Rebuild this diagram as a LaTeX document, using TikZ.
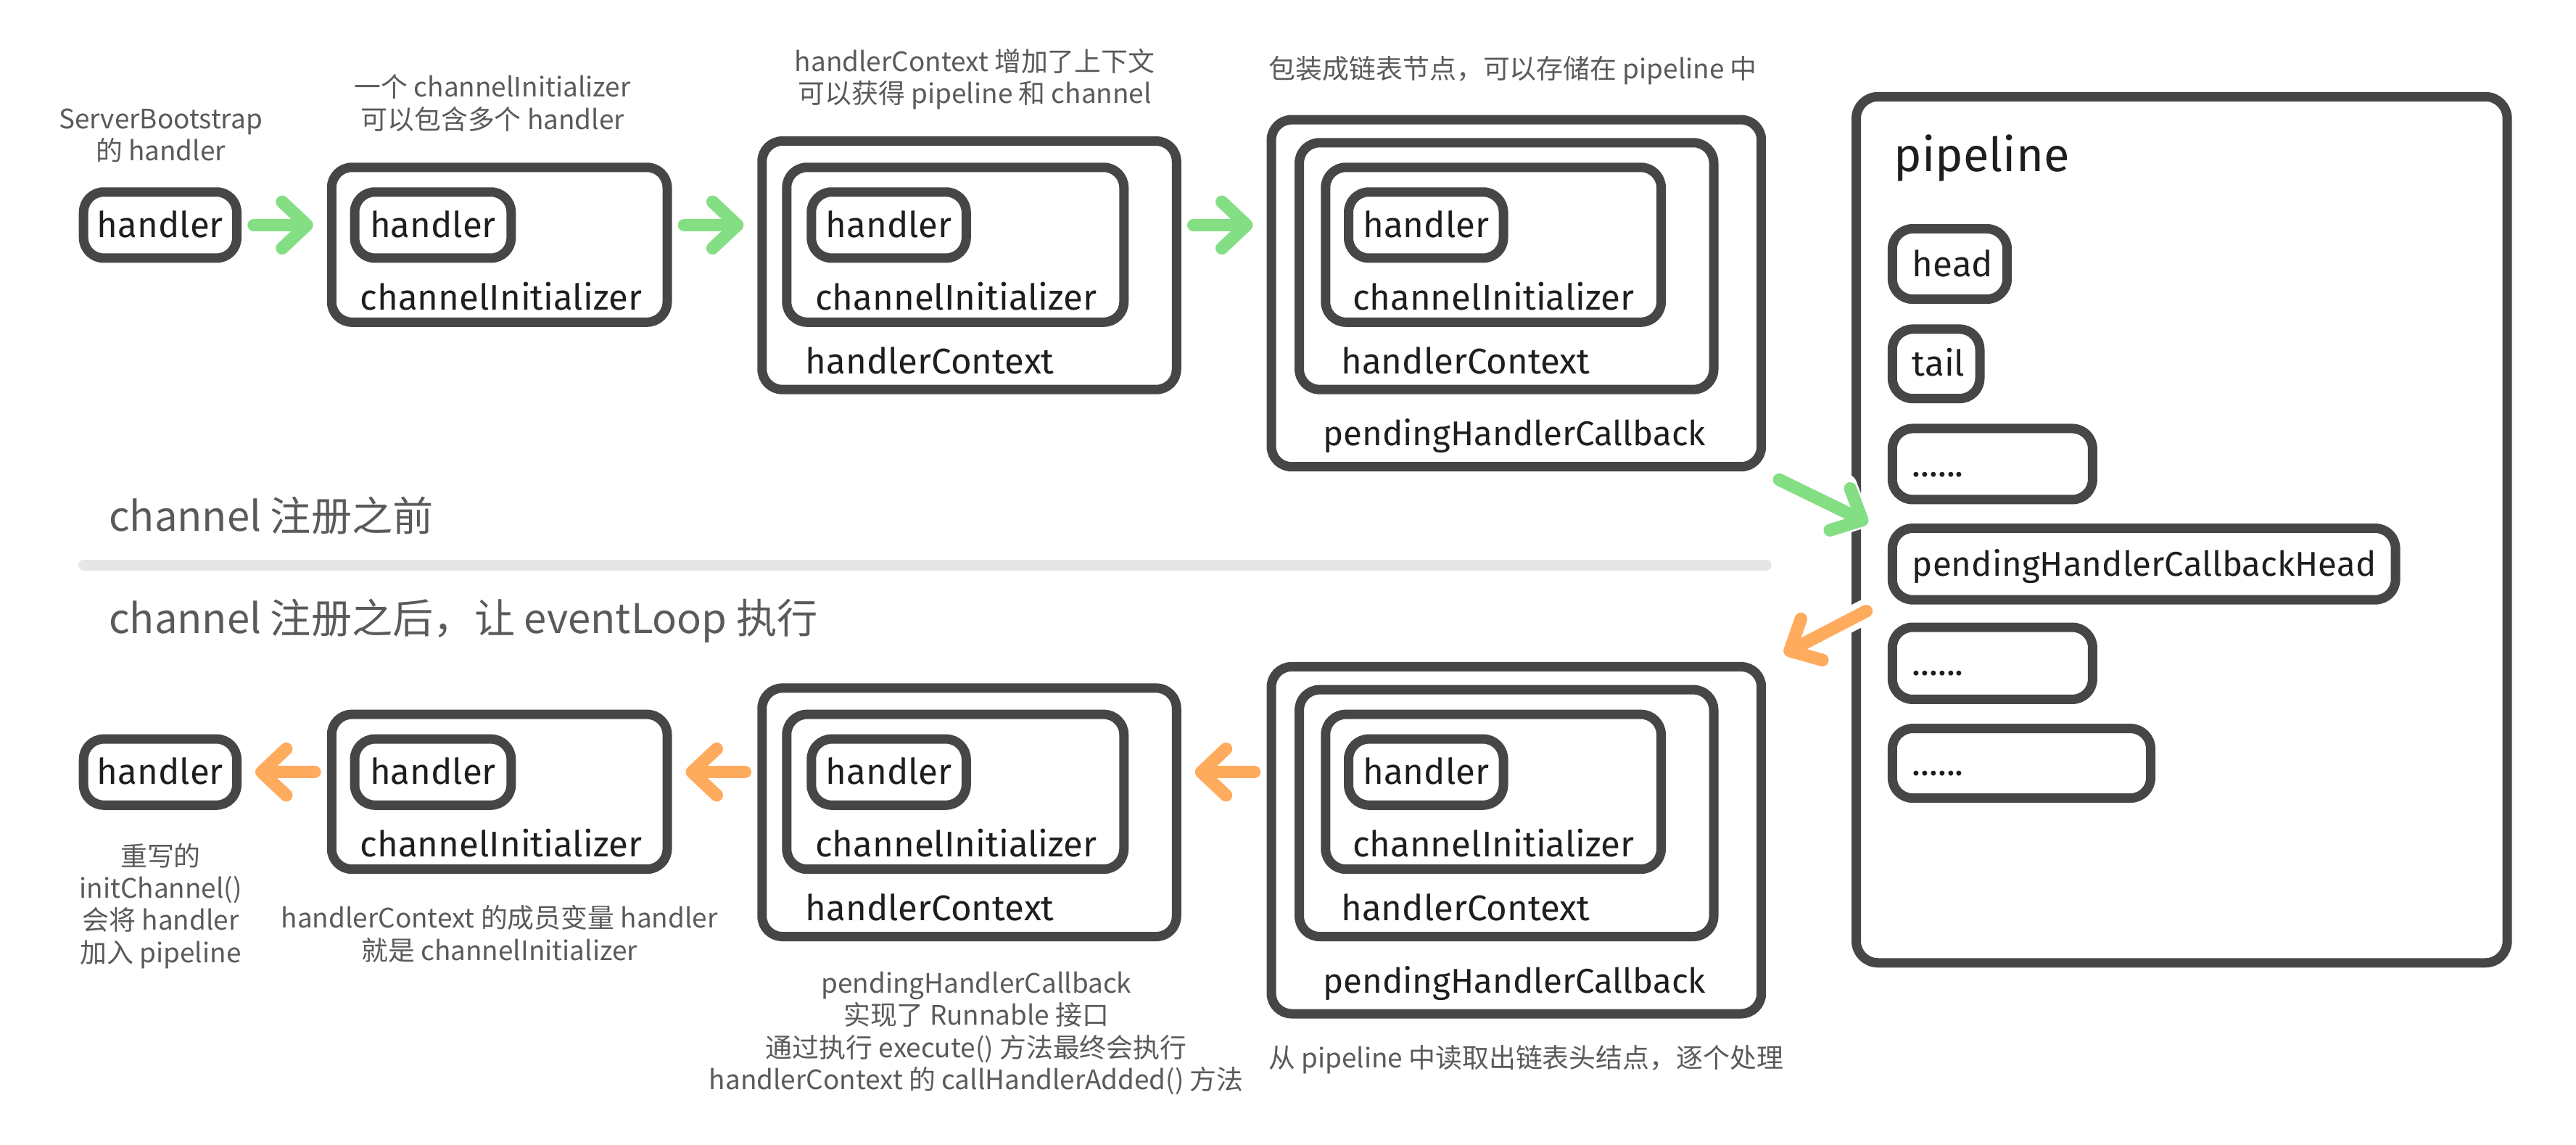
\documentclass[tikz,border=0pt]{standalone}
\usepackage{fontspec}
\setmainfont{Fira Sans}
\newfontfamily\cjkfont{Noto Sans CJK SC}
\usetikzlibrary{arrows.meta,fit}
\definecolor{boxc}{HTML}{464646}
\definecolor{txtc}{HTML}{1E1E1E}
\definecolor{annc}{HTML}{5A5A5A}
\definecolor{sepc}{HTML}{E6E6E6}
\definecolor{grn}{HTML}{84DE84}
\definecolor{org}{HTML}{FFAB5E}
\tikzset{
 bx/.style={draw=boxc, line width=0.13cm, rounded corners=0.28cm, inner sep=-0.065cm},
 lbl/.style={inner sep=0pt, text=txtc, font=\fontsize{14}{16}\selectfont, text height=9.8pt, text depth=0pt},
 lblsm/.style={lbl, font=\fontsize{13.5}{16}\selectfont, text height=9.5pt},
 ann/.style={inner sep=0pt, text=annc, align=center, font=\cjkfont\fontsize{10.5}{12.6}\selectfont},
 sect/.style={inner sep=0pt, text=annc, font=\cjkfont\fontsize{16}{19}\selectfont, anchor=west},
 fl/.style={line width=0.175cm, line cap=round, line join=round, -{Straight Barb[round, length=0.34cm, width=0.64cm]}, shorten <=0.17cm, shorten >=0.19cm},
 garrow/.style={fl, draw=grn},
 oarrow/.style={fl, draw=org},
 halo/.style={preaction={draw=white, line width=0.34cm}},
}
\newcommand\mkbox[5]{\node[bx, fit={(#2,{#3}) (#4,{#5})}] (#1) {};}
\newcommand\mkrow[2]{%
 \mkbox{hA#1}{48}{114+#2}{147}{160+#2}
 \node[lbl] (hAl#1) at (hA#1) {handler};
 \mkbox{cB#1}{199}{99+#2}{409}{199+#2}
 \mkbox{hB#1}{213}{114+#2}{314}{160+#2}
 \node[lbl] (hBl#1) at (hB#1) {handler};
 \node[lbl, anchor=west] (cBl#1) at (219,{181+#2}) {channelInitializer};
 \mkbox{xC#1}{461}{83+#2}{719}{240+#2}
 \mkbox{cC#1}{476}{99+#2}{687}{199+#2}
 \mkbox{hC#1}{491}{114+#2}{591}{160+#2}
 \node[lbl] (hCl#1) at (hC#1) {handler};
 \node[lbl, anchor=west] (cCl#1) at (496,{181+#2}) {channelInitializer};
 \node[lbl, anchor=west] (xCl#1) at (490,{220+#2}) {handlerContext};
 \mkbox{pD#1}{771}{70+#2}{1075}{287+#2}
 \mkbox{xD#1}{788}{84+#2}{1046}{240+#2}
 \mkbox{cD#1}{804}{99+#2}{1014}{199+#2}
 \mkbox{hD#1}{818}{114+#2}{918}{160+#2}
 \node[lbl] (hDl#1) at (hD#1) {handler};
 \node[lbl, anchor=west] (cDl#1) at (823,{181+#2}) {channelInitializer};
 \node[lbl, anchor=west] (xDl#1) at (816,{220+#2}) {handlerContext};
 \node[lblsm, anchor=west] (pDl#1) at (805,{264+#2}) {pendingHandlerCallback};
}
\begin{document}
\begin{tikzpicture}[x=0.022653cm, y=-0.022653cm]
\useasboundingbox (0,0) rectangle (1568,697);
% rows
\mkrow{T}{0}
\mkrow{B}{333}
% pipeline
\node[bx, rounded corners=0.3cm, fit={(1127,56) (1529,589)}] (P) {};
\node[lbl, font=\fontsize{18.5}{22}\selectfont, text height=12.9pt, anchor=west] (ptitle) at (1152.6,94.5) {pipeline};
\mkbox{head}{1149}{136.4}{1224.6}{185}
\node[lbl, anchor=west] (headl) at (1163.7,160.7) {head};
\mkbox{tail}{1149}{197.5}{1208}{245.5}
\node[lbl, anchor=west] (taill) at (1163.7,221.5) {tail};
\mkbox{dA}{1149}{258}{1276.6}{307}
\node[lbl, anchor=west] (dAl) at (1163.7,282.5) {......};
\mkbox{phch}{1149}{318.7}{1461}{368}
\node[lblsm, anchor=west] (phchl) at (1163.7,343.4) {pendingHandlerCallbackHead};
\mkbox{dB}{1149}{379}{1276.6}{428.6}
\node[lbl, anchor=west] (dBl) at (1163.7,403.8) {......};
\mkbox{dC}{1149}{440.6}{1312}{488.7}
\node[lbl, anchor=west] (dCl) at (1163.7,464.7) {......};
% horizontal arrows
\draw[garrow] (hAT.east) -- (hAT.east -| cBT.west);
\draw[garrow] (cBT.east |- hAT.east) -- (hAT.east -| xCT.west);
\draw[garrow] (xCT.east |- hAT.east) -- (hAT.east -| pDT.west);
\draw[oarrow] (cBB.west |- hAB.east) -- (hAB.east);
\draw[oarrow] (xCB.west |- hAB.east) -- (hAB.east -| cBB.east);
\draw[oarrow] (pDB.west |- hAB.east) -- (hAB.east -| xCB.east);
% diagonal arrows
\coordinate (gs) at (1083,292);
\coordinate (oe) at (1086,398);
\draw[garrow, halo, shorten <=0pt, shorten >=0pt] (gs) -- ([shift={(-12,-25)}]phch.west);
\draw[oarrow, halo, shorten <=0pt, shorten >=0pt] ([shift={(-13,4)}]phch.south west) -- (oe);
% separator
\draw[line width=0.15cm, sepc, line cap=round] (51,344) -- (1075,344);
% section titles
\node[sect] (s1) at (66,314) {channel 注册之前};
\node[sect] (s2) at (66,378) {channel 注册之后，让 eventLoop 执行};
% annotations
\node[ann] (a1) at (97.8,82.4) {ServerBootstrap\\的 handler};
\node[ann] (a2) at (299.8,62.7) {一个 channelInitializer\\可以包含多个 handler};
\node[ann] (a3) at (593.4,48) {handlerContext 增加了上下文\\可以获得 pipeline 和 channel};
\node[ann] (a4) at (921,42.8) {包装成链表节点，可以存储在 pipeline 中};
\node[ann] (a5) at (97.8,551.5) {重写的\\initChannel()\\会将 handler\\加入 pipeline};
\node[ann] (a6) at (304,568.5) {handlerContext 的成员变量 handler\\就是 channelInitializer};
\node[ann] (a7) at (594.3,629) {pendingHandlerCallback\\实现了 Runnable 接口\\通过执行 execute() 方法最终会执行\\handlerContext 的 callHandlerAdded() 方法};
\node[ann] (a8) at (928.8,645) {从 pipeline 中读取出链表头结点，逐个处理};
\end{tikzpicture}
\end{document}
